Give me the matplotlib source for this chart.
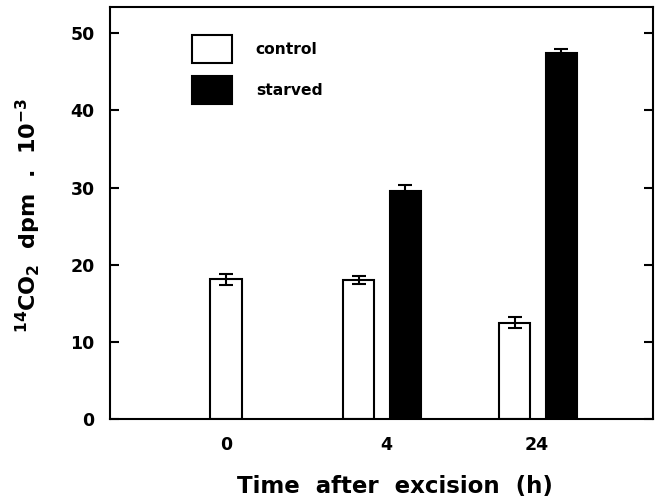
import matplotlib
matplotlib.use("Agg")
import matplotlib.pyplot as plt
from matplotlib.patches import Patch

# ---- data ----
groups = ["0", "4", "24"]
control_x = [0.0, 0.85, 1.85]
control_vals = [18.1, 18.0, 12.5]
control_err = [0.75, 0.5, 0.7]
starved_x = [1.15, 2.15]
starved_vals = [29.6, 47.5]
starved_err = [0.7, 0.45]
tick_pos = [0.0, 1.03, 1.99]
yticks = [0, 10, 20, 30, 40, 50]

plt.rcParams['font.family'] = ['DejaVu Sans']
plt.rcParams['font.weight'] = 'bold'
plt.rcParams['mathtext.fontset'] = 'custom'
plt.rcParams['mathtext.rm'] = 'DejaVu Sans:bold'
plt.rcParams['mathtext.bf'] = 'DejaVu Sans:bold'
plt.rcParams['mathtext.default'] = 'regular'

fig = plt.figure(figsize=(6.56, 5.01), dpi=100)
ax = fig.add_axes([110/656, 1 - 419/501, (653-110)/656, (419-7)/501])

w = 0.2
ax.bar(control_x, control_vals, width=w, color='white', edgecolor='black',
       linewidth=1.5, zorder=2)
ax.bar(starved_x, starved_vals, width=w, color='black', edgecolor='black',
       linewidth=1.5, zorder=2)
ax.errorbar(control_x, control_vals, yerr=control_err, fmt='none', ecolor='black',
            elinewidth=1.5, capsize=5, capthick=1.5, zorder=3)
ax.errorbar(starved_x, starved_vals, yerr=starved_err, fmt='none', ecolor='black',
            elinewidth=1.5, capsize=5, capthick=1.5, zorder=1)

ax.set_xlim(-0.744, 2.737)
ax.set_ylim(0, 53.4)
ax.set_yticks(yticks)
ax.set_xticks(tick_pos)
ax.set_xticklabels(groups)
ax.tick_params(axis='y', direction='in', length=6.5, width=1.5, right=True,
               labelsize=12.5, pad=11)
ax.tick_params(axis='x', length=0, labelsize=12.5, pad=12)
for s in ax.spines.values():
    s.set_linewidth(1.5)

ax.set_xlabel("Time  after  excision  (h)", fontsize=16.5, fontweight='bold')
ax.xaxis.label.set_va('center')
ax.xaxis.set_label_coords((395-110)/543, -(487-419)/412)
ax.set_ylabel(r"$^{14}$CO$_2$  dpm  .  10$^{-3}$", fontsize=16, fontweight='bold')
ax.yaxis.label.set_va('center')
ax.yaxis.set_label_coords(-(110-28)/543, (419-215)/412)

handles = [Patch(facecolor='white', edgecolor='black', linewidth=1.5, label='control'),
           Patch(facecolor='black', edgecolor='black', linewidth=1.5, label='starved')]
ax.legend(handles=handles, loc='upper left', bbox_to_anchor=(0.151, 0.932),
          frameon=False, fontsize=11.2, handlelength=2.6, handleheight=2.4,
          labelspacing=0.85, handletextpad=1.5, borderpad=0, borderaxespad=0)

fig.savefig("out.png", dpi=100)
